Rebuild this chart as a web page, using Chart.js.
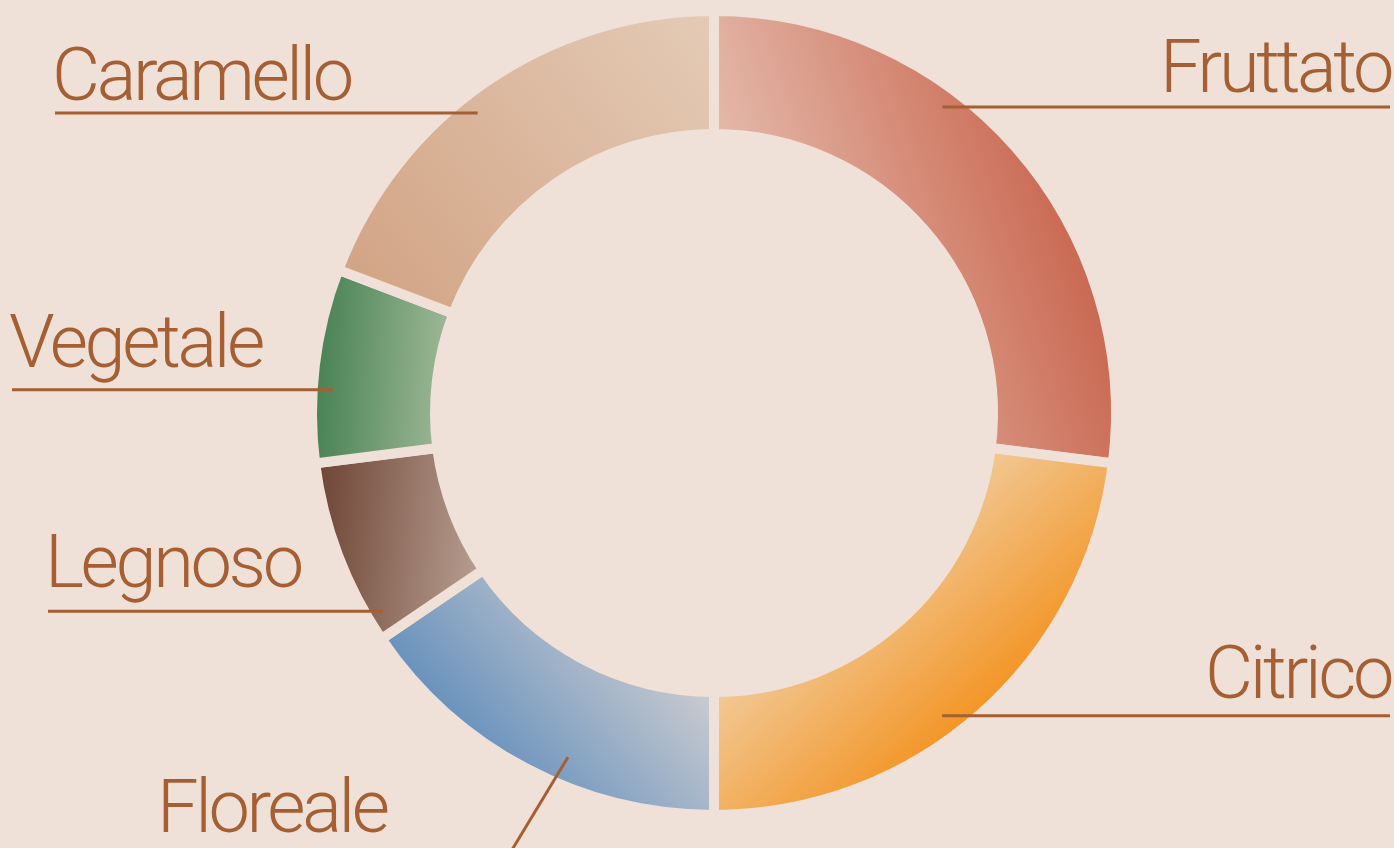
<!DOCTYPE html>
<html>
<head>
<meta charset="utf-8">
<script src="https://cdn.jsdelivr.net/npm/chart.js@4"></script>
<style>
  html, body { margin: 0; padding: 0; background: #efe1d7; }
  #wrap { width: 1394px; height: 848px; position: relative; }
</style>
</head>
<body>
<div id="wrap"><canvas id="aromaChart"></canvas></div>
<script>
// Aromi (quota percentuale)
const aromi = ["Fruttato", "Citrico", "Floreale", "Legnoso", "Vegetale", "Caramello"];
const quote = [27, 23, 15.5, 7.5, 7.8, 19.2];

// colori: [chiaro, scuro] e direzione chiaro -> scuro
const coloriChiari = ["#e4b9aa", "#f1c996", "#cacbd0", "#b69e90", "#9db795", "#e4cbb6"];
const coloriScuri = ["#ca6a53", "#f39628", "#6a93bd", "#6f4536", "#4a8355", "#d2a485"];
const direzioni = [[0.95, -0.31], [0.67, 0.74], [-0.75, 0.66], [-1, -0.1], [-1, -0.05], [-0.8, 0.6]];

const sfondo = "#efe1d7";
const marrone = "#a55f33";
const RAGGIO = 402;
const CUTOUT = 0.694;

// posizione delle etichette (frazione dentro lo spicchio, rientro dal bordo, lato, distanza testo-linea)
const etichette = [
    { frac: 0.378, dr: 20, side: "right", gap: 15 },
    { frac: 0.553, dr: 23, side: "right", gap: 18 },
    { frac: 0.412, dr: 28, side: "down", textX: 160, base: 832 },
    { frac: 0.122, dr: 16, side: "left", textX: 48, gap: 24 },
    { frac: 0.381, dr: 20, side: "left", textX: 12, gap: 23 },
    { frac: 0.447, dr: 20, side: "left", textX: 55, gap: 13 }
];

function gradiente(context) {
    const chart = context.chart;
    const area = chart.chartArea;
    const i = context.dataIndex;
    if (!area) return coloriScuri[i];
    const cx = (area.left + area.right) / 2;
    const cy = (area.top + area.bottom) / 2;
    const tot = quote.reduce((a, b) => a + b, 0);
    let start = 0;
    for (let k = 0; k < i; k++) start += quote[k];
    const a0 = start / tot * Math.PI * 2 - Math.PI / 2;
    const a1 = (start + quote[i]) / tot * Math.PI * 2 - Math.PI / 2;
    const rOut = RAGGIO - 5, rIn = RAGGIO * CUTOUT + 5;
    const d = direzioni[i];
    const n = Math.hypot(d[0], d[1]);
    const ux = d[0] / n, uy = d[1] / n;
    let min = Infinity, max = -Infinity;
    for (let s = 0; s <= 40; s++) {
        const a = a0 + (a1 - a0) * s / 40;
        [rOut, rIn].forEach(r => {
            const p = Math.cos(a) * r * ux + Math.sin(a) * r * uy;
            if (p < min) min = p;
            if (p > max) max = p;
        });
    }
    const g = chart.ctx.createLinearGradient(cx + ux * min, cy + uy * min, cx + ux * max, cy + uy * max);
    g.addColorStop(0, coloriChiari[i]);
    g.addColorStop(1, coloriScuri[i]);
    return g;
}

const etichettePlugin = {
    id: "etichette",
    afterDatasetsDraw(chart) {
        const ctx = chart.ctx;
        const meta = chart.getDatasetMeta(0);
        const W = chart.width;
        ctx.save();
        ctx.strokeStyle = marrone;
        ctx.fillStyle = marrone;
        ctx.lineWidth = 3;
        ctx.font = '300 74px "Roboto", "Liberation Sans", sans-serif';
        ctx.letterSpacing = "-3.4px";
        ctx.textBaseline = "alphabetic";
        meta.data.forEach((arc, i) => {
            const lab = etichette[i];
            const p = arc.getProps(["x", "y", "startAngle", "endAngle", "outerRadius"], true);
            const ang = p.startAngle + (p.endAngle - p.startAngle) * lab.frac;
            const r = p.outerRadius - lab.dr;
            const ax = p.x + Math.cos(ang) * r;
            const ay = p.y + Math.sin(ang) * r;
            ctx.beginPath();
            if (lab.side === "right") {
                ctx.moveTo(ax, ay);
                ctx.lineTo(W - 4, ay);
                ctx.stroke();
                ctx.textAlign = "right";
                ctx.fillText(aromi[i], W - 3, ay - lab.gap);
            } else if (lab.side === "left") {
                ctx.moveTo(lab.textX, ay);
                ctx.lineTo(ax, ay);
                ctx.stroke();
                ctx.textAlign = "left";
                ctx.fillText(aromi[i], lab.textX - 3, ay - lab.gap);
            } else {
                ctx.moveTo(ax, ay);
                ctx.lineTo(ax - 55 * 1.5, ay + 91 * 1.5);
                ctx.stroke();
                ctx.textAlign = "left";
                ctx.fillText(aromi[i], lab.textX - 3, lab.base);
            }
        });
        ctx.restore();
    }
};

const ctx = document.getElementById("aromaChart").getContext("2d");

new Chart(ctx, {
    type: "doughnut",
    data: {
        labels: aromi,
        datasets: [{
            data: quote,
            backgroundColor: gradiente,
            borderColor: sfondo,
            borderWidth: 10,
            borderJoinStyle: "miter",
            hoverOffset: 0
        }]
    },
    options: {
        responsive: true,
        maintainAspectRatio: false,
        animation: false,
        radius: RAGGIO,
        cutout: (CUTOUT * 100) + "%",
        layout: { padding: { left: 34, bottom: 22 } },
        plugins: {
            legend: { display: false },
            tooltip: { enabled: false }
        },
        events: []
    },
    plugins: [etichettePlugin]
});
</script>
</body>
</html>
